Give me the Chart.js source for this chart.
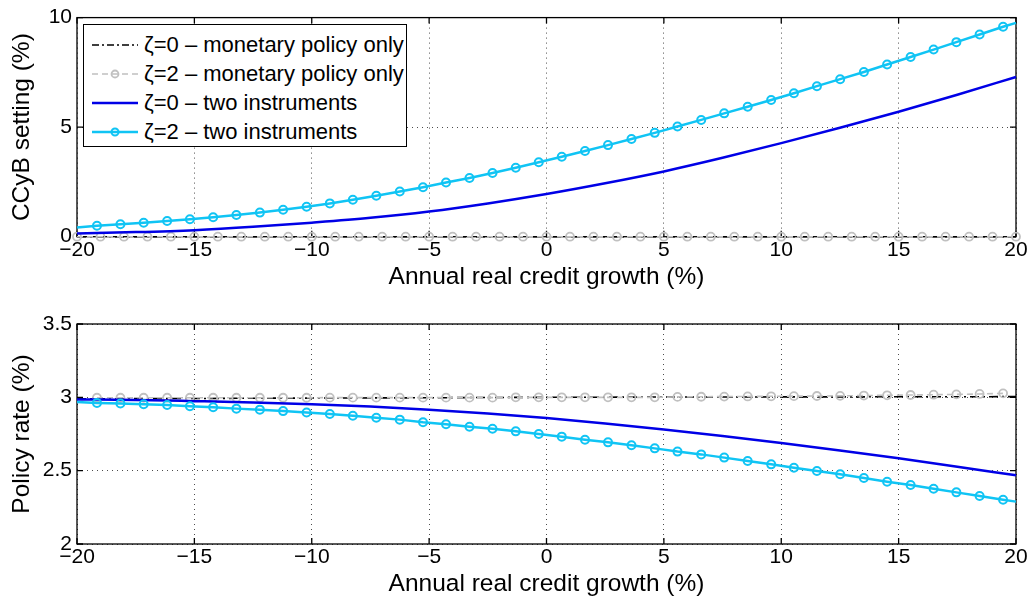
<!DOCTYPE html>
<html>
<head>
<meta charset="utf-8">
<script src="https://cdn.jsdelivr.net/npm/chart.js@4"></script>
<style>
  body { margin: 0; background: #fff; font-family: "Liberation Sans", Arial, sans-serif; }
  #wrap { position: relative; width: 1033px; height: 603px; }
  .panel { position: absolute; left: 0; width: 1033px; }
  #top { top: 0; height: 300px; }
  #bottom { top: 300px; height: 303px; }
  #legend { position: absolute; left: 83px; top: 24px; width: 322px; height: 121px;
            border: 1px solid #000; background: #fff; font-size: 22px; }
  .row { position: absolute; left: 0; height: 29px; display: flex; align-items: center; white-space: nowrap; }
  .row svg { margin-left: 8px; margin-right: 6px; }
</style>
</head>
<body>
<div id="wrap">
  <div class="panel" id="top"><canvas id="ccyb"></canvas></div>
  <div class="panel" id="bottom"><canvas id="rate"></canvas></div>
  <div id="legend">
    <div class="row" style="top:5px"><svg width="46" height="12"><line x1="0" y1="6" x2="46" y2="6" stroke="#000" stroke-width="1.6" stroke-dasharray="7,3,2,3"/></svg>ζ=0 – monetary policy only</div>
    <div class="row" style="top:34px"><svg width="46" height="12"><line x1="0" y1="6" x2="46" y2="6" stroke="#c0c0c0" stroke-width="1.6" stroke-dasharray="6,4"/><circle cx="23" cy="6" r="3.5" fill="none" stroke="#c0c0c0" stroke-width="1.8"/></svg>ζ=2 – monetary policy only</div>
    <div class="row" style="top:63px"><svg width="46" height="12"><line x1="0" y1="6" x2="46" y2="6" stroke="#0000e6" stroke-width="2.4"/></svg>ζ=0 – two instruments</div>
    <div class="row" style="top:92px"><svg width="46" height="12"><line x1="0" y1="6" x2="46" y2="6" stroke="#10c4f4" stroke-width="2.4"/><circle cx="23" cy="6" r="3.5" fill="none" stroke="#10c4f4" stroke-width="2"/></svg>ζ=2 – two instruments</div>
  </div>
</div>
<script>
// credit growth grid for the zeta=2 runs (ends without markers)
const zeta2X = [-20, -19.15, -18.15, -17.16, -16.16, -15.19, -14.20, -13.21, -12.21, -11.22, -10.22,
  -9.23, -8.25, -7.25, -6.25, -5.26, -4.28, -3.28, -2.30, -1.31, -0.33,
  0.65, 1.64, 2.62, 3.62, 4.61, 5.58, 6.59, 7.57, 8.57, 9.57,
  10.54, 11.52, 12.51, 13.52, 14.51, 15.51, 16.49, 17.46, 18.45, 19.45, 20];
const creditGrid = [-20, -19, -18, -17, -16, -15, -14, -13, -12, -11, -10, -9, -8, -7, -6, -5, -4, -3, -2, -1, 0,
  1, 2, 3, 4, 5, 6, 7, 8, 9, 10, 11, 12, 13, 14, 15, 16, 17, 18, 19, 20];
const zeta0X = [-20, -17.5, -15, -12.5, -10, -7.5, -5, -2.5, 0, 2.5, 5, 7.5, 10, 12.5, 15, 17.5, 20];

// CCyB setting (%)
const ccybMonZeta0 = [0, 0];
const ccybMonZeta2 = [0, 0, 0, 0, 0, 0, 0, 0, 0, 0, 0, 0, 0, 0, 0, 0, 0, 0, 0, 0, 0,
  0, 0, 0, 0, 0, 0, 0, 0, 0, 0, 0, 0, 0, 0, 0, 0, 0, 0, 0, 0];
const ccybTwoZeta0 = [0.15, 0.21, 0.30, 0.45, 0.64, 0.86, 1.15, 1.52, 1.95, 2.44, 2.98, 3.60, 4.27, 4.97, 5.70, 6.48, 7.29];
const ccybTwoZeta2 = [0.42, 0.50, 0.57, 0.64, 0.72, 0.80, 0.89, 0.99, 1.10, 1.23, 1.37,
  1.52, 1.69, 1.87, 2.06, 2.26, 2.47, 2.68, 2.91, 3.15, 3.40,
  3.65, 3.91, 4.18, 4.46, 4.74, 5.03, 5.33, 5.63, 5.93, 6.24,
  6.55, 6.87, 7.19, 7.52, 7.86, 8.20, 8.54, 8.88, 9.23, 9.58, 9.76];

// Policy rate (%)
const rateMonZeta0 = [2.990, 2.991, 2.992, 2.994, 2.995, 2.996, 2.997, 2.999, 3.000, 3.001, 3.002, 3.002, 3.003, 3.003, 3.004, 3.004, 3.005];
const rateMonZeta2 = [2.997, 2.997, 2.997, 2.997, 2.997, 2.997, 2.997, 2.997, 2.997, 2.997,
  2.998, 2.998, 2.998, 2.998, 2.998, 2.998, 2.998, 2.998, 3.000, 3.000,
  3.000, 3.000, 3.000, 3.000, 3.000, 3.003, 3.004, 3.005, 3.006, 3.007,
  3.008, 3.009, 3.010, 3.012, 3.014, 3.016, 3.018, 3.020, 3.023, 3.027];
const rateTwoZeta0 = [2.986, 2.982, 2.974, 2.965, 2.953, 2.937, 2.916, 2.890, 2.859, 2.822, 2.781, 2.737, 2.689, 2.638, 2.584, 2.527, 2.468];
const rateTwoZeta2 = [2.968, 2.962, 2.958, 2.953, 2.948, 2.939, 2.932, 2.923, 2.916, 2.906, 2.897,
  2.886, 2.875, 2.861, 2.848, 2.830, 2.816, 2.800, 2.786, 2.768, 2.750,
  2.732, 2.711, 2.693, 2.673, 2.652, 2.630, 2.611, 2.589, 2.566, 2.543,
  2.520, 2.498, 2.475, 2.450, 2.425, 2.402, 2.377, 2.352, 2.327, 2.302, 2.289];

const xTitle = "Annual real credit growth (%)";
const BLACK = "#000000", GREY = "#c0c0c0", BLUE = "#0000e6", CYAN = "#10c4f4";
const FONT = { family: "'Liberation Sans', Arial, sans-serif", size: 21 };
const TITLE_FONT = { family: "'Liberation Sans', Arial, sans-serif", size: 24.5 };

Chart.defaults.font.family = FONT.family;
Chart.defaults.color = "#000";

function pts(xs, ys) {
  return xs.map((x, i) => ({ x: x, y: ys[i] }));
}
function endless(n) {
  // radius per point: hide the first and last one
  return Array.from({ length: n }, (_, i) => (i === 0 || i === n - 1) ? 0 : 4);
}
function minus(v) {
  return v < 0 ? "\u2212" + Math.abs(v) : String(v);
}
function plain(v) {
  return String(+v.toFixed(2));
}

// box round the axes plus inward tick marks, as matlab does
const frame = {
  id: "frame",
  beforeDatasetsDraw(chart) {
    const { ctx, chartArea: a, scales } = chart;
    ctx.save();
    ctx.strokeStyle = "#000";
    ctx.lineWidth = 1.3;
    ctx.setLineDash([]);
    ctx.strokeRect(a.left, a.top, a.right - a.left, a.bottom - a.top);
    ctx.beginPath();
    scales.x.ticks.forEach(t => {
      const p = scales.x.getPixelForValue(t.value);
      ctx.moveTo(p, a.bottom); ctx.lineTo(p, a.bottom - 6);
      ctx.moveTo(p, a.top); ctx.lineTo(p, a.top + 6);
    });
    scales.y.ticks.forEach(t => {
      const p = scales.y.getPixelForValue(t.value);
      ctx.moveTo(a.left, p); ctx.lineTo(a.left + 6, p);
      ctx.moveTo(a.right, p); ctx.lineTo(a.right - 6, p);
    });
    ctx.stroke();
    ctx.restore();
  }
};

function makeOptions(yMin, yMax, yStep, yTitle, pad, xHeight) {
  return {
    responsive: true,
    maintainAspectRatio: false,
    animation: false,
    layout: { padding: pad },
    plugins: { legend: { display: false }, tooltip: { enabled: false } },
    scales: {
      x: {
        type: "linear", min: -20, max: 20,
        border: { display: false, dash: [1, 4] },
        grid: { color: "rgba(0,0,0,0.7)", drawTicks: false },
        ticks: { stepSize: 5, padding: 1, font: FONT, callback: minus, maxRotation: 0 },
        title: { display: true, text: xTitle, font: TITLE_FONT, padding: { top: 0, bottom: 0 } },
        afterFit: s => { s.height = xHeight; }
      },
      y: {
        min: yMin, max: yMax,
        border: { display: false, dash: [1, 4] },
        grid: { color: "rgba(0,0,0,0.7)", drawTicks: false },
        ticks: { stepSize: yStep, padding: 5, font: FONT, callback: plain },
        title: { display: true, text: yTitle, font: TITLE_FONT, padding: { top: 0, bottom: 0 } },
        afterFit: s => { s.width = 69; }
      }
    }
  };
}

new Chart(document.getElementById("ccyb"), {
  type: "line",
  data: {
    datasets: [
      { data: pts(zeta2X, ccybTwoZeta2), borderColor: CYAN, borderWidth: 2.5, pointRadius: endless(zeta2X.length),
        pointBorderColor: CYAN, pointBackgroundColor: "rgba(0,0,0,0)", pointBorderWidth: 2, order: 0, clip: false },
      { data: pts(zeta0X, ccybTwoZeta0), borderColor: BLUE, borderWidth: 2.5, pointRadius: 0,
        cubicInterpolationMode: "monotone", order: 1, clip: false },
      { data: pts(creditGrid, ccybMonZeta2), borderColor: GREY, borderWidth: 1.6, borderDash: [6, 4], pointRadius: 4,
        pointBorderColor: GREY, pointBackgroundColor: "rgba(0,0,0,0)", pointBorderWidth: 1.8, order: 2, clip: false },
      { data: pts([-20, 20], ccybMonZeta0), borderColor: BLACK, borderWidth: 1.6, borderDash: [9, 4, 2, 4], pointRadius: 0,
        order: 3, clip: false }
    ]
  },
  options: makeOptions(0, 10, 5, "CCyB setting (%)", { left: 8, right: 17, top: 17, bottom: 7.6 }, 55.7),
  plugins: [frame]
});

new Chart(document.getElementById("rate"), {
  type: "line",
  data: {
    datasets: [
      { data: pts(zeta2X, rateTwoZeta2), borderColor: CYAN, borderWidth: 2.5, pointRadius: endless(zeta2X.length),
        pointBorderColor: CYAN, pointBackgroundColor: "rgba(0,0,0,0)", pointBorderWidth: 2, order: 0, clip: false },
      { data: pts(zeta0X, rateTwoZeta0), borderColor: BLUE, borderWidth: 2.5, pointRadius: 0,
        cubicInterpolationMode: "monotone", order: 1, clip: false },
      { data: pts(zeta2X.slice(1, -1), rateMonZeta2), borderColor: GREY, borderWidth: 1.6, borderDash: [6, 4], pointRadius: 4,
        pointBorderColor: GREY, pointBackgroundColor: "rgba(0,0,0,0)", pointBorderWidth: 1.8, order: 2, clip: false },
      { data: pts(zeta0X, rateMonZeta0), borderColor: BLACK, borderWidth: 1.6, borderDash: [9, 4, 2, 4], pointRadius: 0,
        cubicInterpolationMode: "monotone", order: 3, clip: false }
    ]
  },
  options: makeOptions(2, 3.5, 0.5, "Policy rate (%)", { left: 8, right: 17, top: 24, bottom: 3.6 }, 55.4),
  plugins: [frame]
});
</script>
</body>
</html>
